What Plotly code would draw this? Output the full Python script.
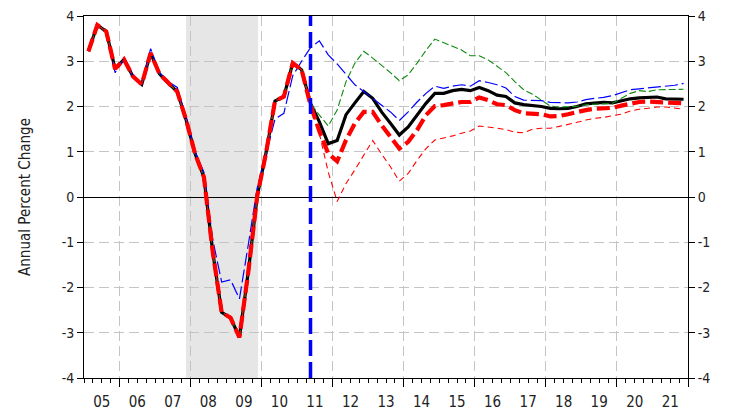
import plotly.graph_objects as go

# ---------------- data ----------------
start_year = 2005
n_quarters = 68  # 2005Q1 .. 2021Q4

# shared history 2005Q1 .. 2011Q1
history = [3.22, 3.80, 3.66, 2.83, 3.04, 2.67, 2.49, 3.18, 2.72, 2.51,
           2.33, 1.70, 0.96, 0.44, -1.22, -2.55, -2.67, -3.10, -1.65, 0.02,
           0.98, 2.12, 2.22, 2.96, 2.81]

# alternative (blue) history 2005Q1 .. 2011Q1
history_blue = [3.25, 3.80, 3.64, 2.75, 3.04, 2.67, 2.49, 3.28, 2.74, 2.55,
                2.42, 1.75, 1.00, 0.55, -0.95, -1.88, -1.83, -2.25, -1.05, 0.20,
                0.95, 1.72, 1.85, 2.68, 3.00]

# forecasts 2011Q2 .. 2021Q4
black_fc = [2.07, 1.66, 1.18, 1.25, 1.82, 2.08, 2.33, 2.18, 1.88, 1.63,
            1.37, 1.55, 1.81, 2.07, 2.29, 2.29, 2.35, 2.38, 2.35, 2.42,
            2.35, 2.25, 2.22, 2.08, 2.04, 2.02, 2.00, 1.96, 1.95, 1.96,
            2.00, 2.06, 2.08, 2.09, 2.08, 2.12, 2.17, 2.19, 2.20, 2.21,
            2.17, 2.16, 2.16]

red_fc = [2.03, 1.45, 0.96, 0.79, 1.26, 1.63, 1.88, 1.88, 1.59, 1.33,
          1.07, 1.22, 1.48, 1.81, 2.01, 2.03, 2.07, 2.10, 2.10, 2.20,
          2.14, 2.05, 2.03, 1.92, 1.85, 1.84, 1.83, 1.78, 1.79, 1.83,
          1.88, 1.92, 1.95, 1.96, 1.97, 2.02, 2.07, 2.10, 2.11, 2.10,
          2.08, 2.07, 2.07]

red_thin_fc = [2.03, 1.40, 0.55, -0.10, 0.30, 0.60, 0.93, 1.25, 0.95, 0.67,
               0.35, 0.52, 0.81, 1.07, 1.26, 1.30, 1.35, 1.41, 1.46, 1.57,
               1.55, 1.52, 1.49, 1.43, 1.42, 1.50, 1.52, 1.52, 1.56, 1.60,
               1.65, 1.70, 1.74, 1.76, 1.79, 1.83, 1.90, 1.94, 1.96, 1.99,
               1.99, 1.96, 1.94]

green_fc = [2.07, 1.81, 1.57, 1.92, 2.55, 2.96, 3.22, 3.07, 2.92, 2.75,
            2.57, 2.70, 2.96, 3.24, 3.49, 3.41, 3.34, 3.25, 3.12, 3.12,
            3.03, 2.90, 2.75, 2.55, 2.37, 2.27, 2.14, 2.01, 1.99, 1.99,
            2.00, 2.04, 2.05, 2.06, 2.07, 2.18, 2.29, 2.35, 2.33, 2.37,
            2.37, 2.37, 2.38]

blue_fc = [3.30, 3.45, 3.14, 2.94, 2.70, 2.48, 2.33, 2.18, 2.03, 1.88,
           1.69, 1.88, 2.10, 2.29, 2.45, 2.40, 2.45, 2.48, 2.45, 2.57,
           2.53, 2.48, 2.41, 2.22, 2.14, 2.14, 2.13, 2.09, 2.08, 2.08,
           2.10, 2.15, 2.18, 2.20, 2.24, 2.30, 2.37, 2.39, 2.41, 2.44,
           2.45, 2.47, 2.51]

year_labels = ["05", "06", "07", "08", "09", "10", "11", "12", "13",
               "14", "15", "16", "17", "18", "19", "20", "21"]
y_ticks = [-4, -3, -2, -1, 0, 1, 2, 3, 4]
y_tick_labels = ["-4", "-3", "-2", "-1", "0", "1", "2", "3", "4"]
recession = [2007.87, 2009.9]
forecast_start = 2011.375

# ---------------- build ----------------
x = [start_year + (i + 0.5) / 4 for i in range(n_quarters)]
black = history + black_fc
red = history + red_fc
red_thin = history + red_thin_fc
green = history + green_fc
blue = history_blue + blue_fc

FONT = "DejaVu Sans Condensed, Liberation Sans Narrow, Arial Narrow, sans-serif"
GRID = "#c4c4c4"

fig = go.Figure()
fig.add_trace(go.Scatter(x=x, y=black, mode="lines",
                         line=dict(color="black", width=3.2), hoverinfo="skip"))
fig.add_trace(go.Scatter(x=x, y=green, mode="lines",
                         line=dict(color="#108a10", width=1.1, dash="7px,3px"), hoverinfo="skip"))
fig.add_trace(go.Scatter(x=x, y=blue, mode="lines",
                         line=dict(color="#0000ff", width=1.2, dash="13px,4px"), hoverinfo="skip"))
fig.add_trace(go.Scatter(x=x, y=red_thin, mode="lines",
                         line=dict(color="#ff0000", width=1.1, dash="6px,4px"), hoverinfo="skip"))
fig.add_trace(go.Scatter(x=x, y=red, mode="lines",
                         line=dict(color="#ff0000", width=4.2, dash="13px,5px"), hoverinfo="skip"))
# helper trace for the secondary axes
fig.add_trace(go.Scatter(x=[start_year, start_year + 17], y=[None, None], xaxis="x2", yaxis="y2",
                         mode="lines", hoverinfo="skip"))

year_centers = [start_year + i + 0.5 for i in range(len(year_labels))]
major_ticks = [start_year + i for i in range(1, 18, 2)]

# page body has an 8px default margin, so the figure is 8px smaller than the window
fig.update_layout(
    width=725, height=404,
    margin=dict(l=76, r=45, t=8, b=34, autoexpand=False),
    paper_bgcolor="white", plot_bgcolor="white",
    showlegend=False,
    font=dict(family=FONT, size=14, color="#222"),
    xaxis=dict(range=[start_year, start_year + 17], tickmode="array", tickvals=major_ticks,
               showticklabels=False, ticks="outside", ticklen=8, tickcolor="black",
               showgrid=True, gridcolor=GRID, griddash="10px,5px", gridwidth=1,
               showline=True, linecolor="black", linewidth=1, mirror=True, zeroline=False,
               automargin=False,
               minor=dict(tick0=start_year, dtick=0.25, ticks="outside", ticklen=4,
                          tickcolor="black", showgrid=False)),
    xaxis2=dict(range=[start_year, start_year + 17], overlaying="x", anchor="y", side="bottom",
                tickmode="array", tickvals=year_centers, ticktext=year_labels,
                ticks="outside", ticklen=10, tickcolor="rgba(0,0,0,0)",
                showgrid=False, showline=False, zeroline=False, automargin=False,
                ticklabeloverflow="allow",
                tickfont=dict(family=FONT, size=15, color="#222")),
    yaxis=dict(range=[-4, 4], tickmode="array", tickvals=y_ticks, ticktext=y_tick_labels,
               ticks="outside", ticklen=6, tickcolor="black",
               showgrid=True, gridcolor=GRID, griddash="10px,5px", gridwidth=1,
               zeroline=True, zerolinecolor="black", zerolinewidth=1,
               showline=True, linecolor="black", linewidth=1, automargin=False,
               ticklabeloverflow="allow",
               tickfont=dict(family=FONT, size=14, color="#222"),
               title=dict(text="Annual Percent Change", standoff=27,
                          font=dict(family=FONT, size=15, color="#222"))),
    yaxis2=dict(range=[-4, 4], overlaying="y", anchor="x", side="right",
                tickmode="array", tickvals=y_ticks, ticktext=y_tick_labels,
                ticks="outside", ticklen=6, tickcolor="black",
                showgrid=False, zeroline=False, automargin=False,
                ticklabeloverflow="allow",
                showline=True, linecolor="black", linewidth=1,
                tickfont=dict(family=FONT, size=14, color="#222")),
    shapes=[
        dict(type="rect", xref="x", yref="paper", x0=recession[0], x1=recession[1],
             y0=0, y1=1, fillcolor="#e6e6e6", line=dict(width=0), layer="below"),
        dict(type="line", xref="x", yref="y", x0=forecast_start, x1=forecast_start,
             y0=-4, y1=4, line=dict(color="#0000ff", width=3.5, dash="16px,6px"), layer="above"),
    ],
)

fig.write_html("out.html")
